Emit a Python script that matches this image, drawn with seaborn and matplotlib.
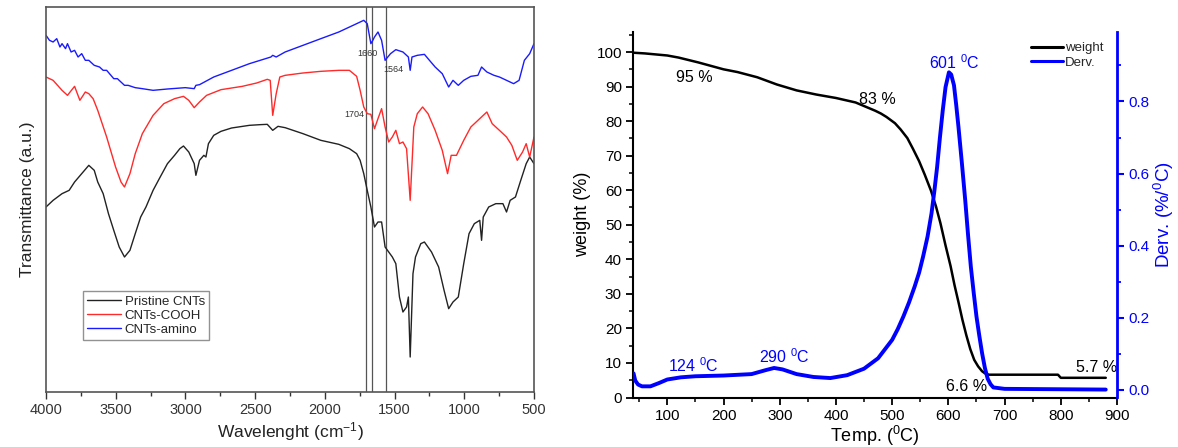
import numpy as np
import pandas as pd
import matplotlib
matplotlib.use("Agg")
import matplotlib.pyplot as plt
from matplotlib.ticker import MultipleLocator
import seaborn as sns

# ---------------- FTIR spectra (wavenumber in cm-1, transmittance in a.u.) ----------------
pristine_wn = [4000, 3949, 3885, 3834, 3795, 3744, 3693, 3654, 3629, 3590, 3552, 3514, 3475,
               3437, 3398, 3360, 3321, 3283, 3232, 3181, 3129, 3078, 3040, 3014, 2976, 2937,
               2925, 2899, 2868, 2853, 2835, 2797, 2745, 2669, 2541, 2464, 2413, 2374, 2336,
               2285, 2157, 2029, 1900, 1824, 1772, 1747, 1721, 1696, 1670, 1644, 1619, 1593,
               1568, 1516, 1491, 1465, 1440, 1414, 1401, 1388, 1368, 1350, 1312, 1286, 1235,
               1184, 1145, 1112, 1081, 1043, 1004, 966, 928, 889, 876, 864, 825, 774, 723,
               697, 671, 633, 595, 556, 531, 500]
pristine_t = [485, 505, 525, 535, 560, 585, 610, 595, 560, 525, 465, 415, 365,
              335, 355, 405, 455, 485, 535, 575, 615, 640, 660, 668, 650, 615,
              580, 625, 640, 635, 675, 700, 712, 722, 730, 732, 733, 715, 727,
              723, 705, 685, 673, 660, 645, 625, 585, 535, 485, 425, 440, 440,
              365, 335, 315, 215, 170, 185, 215, 35, 285, 335, 375, 380, 350,
              305, 235, 180, 200, 215, 315, 405, 435, 445, 385, 455, 485, 495, 495,
              470, 505, 515, 565, 615, 635, 615]

cooh_wn = [4000, 3949, 3885, 3846, 3795, 3757, 3718, 3693, 3662, 3629, 3565, 3501, 3462,
           3437, 3398, 3360, 3309, 3232, 3155, 3078, 3014, 2976, 2937, 2899, 2848, 2745,
           2592, 2489, 2413, 2392, 2374, 2349, 2323, 2285, 2157, 2029, 1900, 1824, 1772,
           1747, 1721, 1696, 1670, 1644, 1619, 1593, 1568, 1542, 1516, 1491, 1465, 1440,
           1414, 1388, 1362, 1337, 1299, 1260, 1209, 1158, 1120, 1094, 1056, 1004, 953,
           902, 864, 838, 800, 748, 697, 659, 620, 582, 556, 531, 500]
cooh_t = [875, 865, 835, 820, 847, 805, 830, 825, 810, 775, 695, 605, 560,
          545, 585, 645, 705, 760, 795, 810, 817, 805, 783, 800, 820, 837,
          847, 857, 868, 865, 760, 825, 875, 880, 887, 892, 895, 895, 877,
          835, 785, 765, 763, 720, 750, 780, 725, 680, 695, 715, 675, 680,
          660, 505, 725, 765, 785, 765, 715, 655, 585, 640, 640, 685, 725,
          745, 760, 770, 735, 715, 695, 670, 625, 650, 675, 635, 695]

amino_wn = [4000, 3975, 3949, 3923, 3900, 3885, 3860, 3846, 3820, 3795, 3770, 3744, 3718,
            3693, 3654, 3616, 3590, 3565, 3514, 3488, 3437, 3411, 3360, 3309, 3232, 3129,
            3001, 2937, 2925, 2899, 2797, 2669, 2541, 2387, 2374, 2349, 2285, 2157, 2029,
            1900, 1772, 1721, 1696, 1670, 1656, 1644, 1619, 1593, 1568, 1529, 1491, 1440,
            1401, 1388, 1375, 1337, 1286, 1260, 1209, 1158, 1112, 1081, 1043, 1004, 953,
            902, 876, 838, 787, 748, 697, 646, 607, 569, 531, 500]
amino_t = [1000, 985, 980, 990, 965, 975, 960, 975, 950, 955, 935, 945, 925,
           925, 910, 905, 895, 895, 870, 870, 850, 850, 843, 840, 835, 839,
           843, 840, 850, 852, 875, 895, 915, 935, 940, 935, 950, 970, 990,
           1010, 1035, 1045, 1035, 975, 985, 995, 1010, 985, 925, 945, 957, 950,
           935, 895, 935, 940, 943, 930, 905, 885, 845, 865, 850, 865, 877,
           880, 905, 890, 880, 875, 865, 855, 865, 925, 945, 975]

ftir_labels = ["Pristine CNTs", "CNTs-COOH", "CNTs-amino"]
ftir_colors = ["#222222", "#ff2a2a", "#1a1aff"]
marker_wn = [1704, 1660, 1564]
marker_text = ["1704", "1660", "1564"]

# ---------------- TGA (temperature in degC) ----------------
tga_temp = [40, 60, 100, 120, 155, 200, 225, 260, 295, 330, 365, 400, 435, 470, 480, 490,
            505, 515, 527, 537, 548, 558, 569, 578, 586, 595, 604, 611, 618, 625, 632, 639,
            646, 653, 660, 665, 672, 700, 795, 800, 880]
tga_weight = [99.8, 99.6, 99.0, 98.4, 97.0, 95.0, 94.2, 92.7, 90.6, 88.9, 87.7, 86.7, 85.4,
              83.0, 82.2, 81.2, 79.4, 77.6, 75.1, 72.0, 68.4, 64.5, 59.9, 55.3, 50.4, 44.0,
              38.0, 32.5, 27.6, 22.5, 18.0, 14.0, 10.9, 9.0, 7.6, 7.0, 6.6, 6.6, 6.6, 5.7,
              5.7]

dtg_temp = [40, 43, 48, 55, 70, 85, 100, 124, 150, 200, 250, 275, 290, 305, 330, 360, 390,
            420, 450, 475, 500, 510, 520, 530, 540, 548, 555, 563, 570, 575, 580, 585, 590,
            595, 601, 605, 610, 614, 618, 624, 630, 635, 640, 645, 650, 655, 660, 665, 670,
            675, 680, 700, 880]
dtg_value = [0.045, 0.025, 0.014, 0.009, 0.009, 0.018, 0.028, 0.034, 0.037, 0.039, 0.043,
             0.054, 0.060, 0.056, 0.043, 0.035, 0.032, 0.040, 0.058, 0.087, 0.138, 0.168,
             0.203, 0.242, 0.286, 0.325, 0.369, 0.425, 0.489, 0.550, 0.618, 0.700, 0.775,
             0.840, 0.881, 0.875, 0.845, 0.790, 0.729, 0.630, 0.526, 0.430, 0.341, 0.270,
             0.203, 0.150, 0.101, 0.060, 0.030, 0.015, 0.006, 0.002, 0.000]

sns.set_theme(style="ticks")
plt.rcParams["font.family"] = ["Liberation Sans", "DejaVu Sans"]
plt.rcParams["mathtext.fontset"] = "custom"
plt.rcParams["mathtext.rm"] = "Liberation Sans"
plt.rcParams["mathtext.it"] = "Liberation Sans:italic"
plt.rcParams["mathtext.bf"] = "Liberation Sans:bold"

W, H = 1178, 447
fig = plt.figure(figsize=(W / 100, H / 100), dpi=100)

# ---------------- left panel: FTIR ----------------
axL = fig.add_axes([46 / W, 1 - 392 / H, (534 - 46) / W, (392 - 7) / H])
ftir = pd.concat([
    pd.DataFrame({"wn": pristine_wn, "t": pristine_t, "sample": ftir_labels[0]}),
    pd.DataFrame({"wn": cooh_wn, "t": cooh_t, "sample": ftir_labels[1]}),
    pd.DataFrame({"wn": amino_wn, "t": amino_t, "sample": ftir_labels[2]}),
])
sns.lineplot(data=ftir, x="wn", y="t", hue="sample", hue_order=ftir_labels,
             palette=ftir_colors, linewidth=1.0, ax=axL, legend=False, estimator=None)
for wn in marker_wn:
    axL.axvline(wn, color="#555555", linewidth=0.9, zorder=0)
axL.text(1786, 763, marker_text[0], fontsize=6.5, color="#333333", ha="center", va="center")
axL.text(1696, 946, marker_text[1], fontsize=6.5, color="#333333", ha="center", va="center")
axL.text(1506, 898, marker_text[2], fontsize=6.5, color="#333333", ha="center", va="center")

axL.set_xlim(4000, 500)
axL.set_ylim(-70, 1085)
axL.set_yticks([])
axL.xaxis.set_major_locator(MultipleLocator(500))
axL.xaxis.set_minor_locator(MultipleLocator(250))
axL.tick_params(axis="x", which="major", direction="out", length=5, width=1,
                labelsize=10.5, colors="#333333", pad=3)
axL.tick_params(axis="x", which="minor", direction="out", length=3, width=1, colors="#333333")
for s in axL.spines.values():
    s.set_color("#555555")
    s.set_linewidth(1.2)
axL.set_xlabel("Wavelenght (cm$^{-1}$)", fontsize=12.5, color="#222222", labelpad=2)
axL.set_ylabel("Transmittance (a.u.)", fontsize=12.5, color="#222222", labelpad=8)
handles = [plt.Line2D([], [], color=c, linewidth=1.0) for c in ftir_colors]
legL = axL.legend(handles, ftir_labels, loc="lower left", bbox_to_anchor=(0.075, 0.135),
                  fontsize=9.5, frameon=True, fancybox=False, borderpad=0.3,
                  labelspacing=0.15, handlelength=2.6, handletextpad=0.3, borderaxespad=0)
legL.get_frame().set_edgecolor("#777777")
legL.get_frame().set_linewidth(1.0)

# ---------------- right panel: TGA / DTG ----------------
axR = fig.add_axes([633 / W, 1 - 397.5 / H, (1117 - 633) / W, (397.5 - 32) / H])
axD = axR.twinx()
tga = pd.DataFrame({"temp": tga_temp, "weight": tga_weight})
dtg = pd.DataFrame({"temp": dtg_temp, "deriv": dtg_value})
sns.lineplot(data=tga, x="temp", y="weight", color="black", linewidth=1.8, ax=axR,
             estimator=None)
sns.lineplot(data=dtg, x="temp", y="deriv", color="#0000ff", linewidth=2.8, ax=axD,
             estimator=None)

axR.set_xlim(39, 900)
axR.set_ylim(0, 105.8)
axD.set_ylim(-0.022, 0.993)
axR.xaxis.set_major_locator(MultipleLocator(100))
axR.xaxis.set_minor_locator(MultipleLocator(50))
axR.yaxis.set_major_locator(MultipleLocator(10))
axR.yaxis.set_minor_locator(MultipleLocator(5))
axD.set_yticks([0.0, 0.2, 0.4, 0.6, 0.8])
axD.yaxis.set_minor_locator(MultipleLocator(0.1))
axR.tick_params(which="major", direction="out", length=5, width=1.3, labelsize=11,
                colors="black", pad=3)
axR.tick_params(which="minor", direction="out", length=3, width=1.1, colors="black")
axD.tick_params(which="major", direction="out", length=5, width=1.5, labelsize=11,
                colors="#0000ff", pad=3)
axD.tick_params(which="minor", direction="out", length=3, width=1.3, colors="#0000ff")
axD.yaxis.set_major_formatter(matplotlib.ticker.FormatStrFormatter("%.1f"))

axR.spines["top"].set_visible(False)
axR.spines["right"].set_visible(False)
for k in ["left", "bottom"]:
    axR.spines[k].set_color("black")
    axR.spines[k].set_linewidth(1.5)
for k in ["left", "bottom", "top"]:
    axD.spines[k].set_visible(False)
axD.spines["right"].set_color("#0000ff")
axD.spines["right"].set_linewidth(2.0)

axR.set_xlabel("Temp. ($^{0}$C)", fontsize=13, color="black", labelpad=1)
axR.set_ylabel("weight (%)", fontsize=13, color="black", labelpad=4)
axD.set_ylabel("Derv. (%/$^{0}$C)", fontsize=13.5, color="#0000ff", labelpad=2)

# annotations
axR.text(148, 92.7, "95 %", fontsize=11.5, color="black", ha="center", va="center")
axR.text(474, 86.2, "83 %", fontsize=11.5, color="black", ha="center", va="center")
axR.text(632, 3.3, "6.6 %", fontsize=11.5, color="black", ha="center", va="center")
axR.text(863, 8.8, "5.7 %", fontsize=11.5, color="black", ha="center", va="center")
axR.text(611, 96.8, "601 $^{0}$C", fontsize=11.5, color="#0000ff", ha="center", va="center")
axR.text(146, 9.2, "124 $^{0}$C", fontsize=11.5, color="#0000ff", ha="center", va="center")
axR.text(309, 11.7, "290 $^{0}$C", fontsize=11.5, color="#0000ff", ha="center", va="center")

handlesR = [plt.Line2D([], [], color="black", linewidth=2.2),
            plt.Line2D([], [], color="#0000ff", linewidth=2.2)]
axR.legend(handlesR, ["weight", "Derv."], loc="upper left", bbox_to_anchor=(0.823, 0.972),
           frameon=False, fontsize=9.5, borderpad=0, borderaxespad=0, handlelength=2.4,
           handletextpad=0.15, labelspacing=0.15)

fig.savefig("out.png", dpi=100)
